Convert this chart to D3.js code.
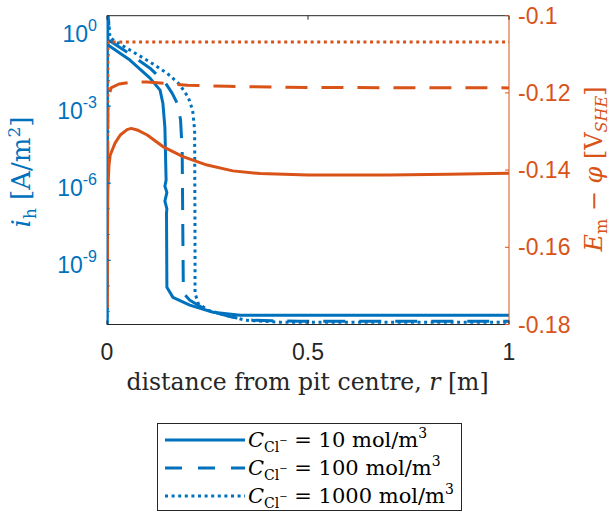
<!DOCTYPE html>
<html><head><meta charset="utf-8">
<script src="https://cdn.jsdelivr.net/npm/d3@7"></script>
<style>
html,body{margin:0;padding:0;background:#fff;}
svg{display:block;}
.serif{font-family:"DejaVu Serif","Liberation Serif",serif;}
.sans{font-family:"Liberation Sans",Arial,sans-serif;}
</style></head>
<body>
<svg id="chart" width="613" height="515"></svg>
<script>
// ---------- data ----------
// current density i_h [A/m^2] (left, log axis)
const r10   = [0, 0.0005, 0.0025, 0.057, 0.107, 0.132, 0.139, 0.144, 0.147, 0.144, 0.149, 0.144, 0.149, 0.148, 0.149, 0.164, 0.206, 0.264, 0.331, 1];
const ih10  = [1e-13, 10, 2.4e-1, 6.2e-2, 1.23e-2, 4.2e-3, 1.3e-3, 1.5e-4, 1.3e-6, 7.6e-7, 4.4e-7, 2.0e-7, 1.0e-7, 6.8e-8, 8.9e-11, 3.6e-11, 1.8e-11, 9.5e-12, 7.2e-12, 7.2e-12];
const r100  = [0, 0.0005, 0.0075, 0.057, 0.107, 0.144, 0.162, 0.177, 0.183, 0.187, 0.189, 0.190, 0.206, 0.249, 0.313, 0.363, 0.48, 1];
const ih100 = [1e-13, 10, 3.4e-1, 1.06e-1, 3.0e-2, 8.6e-3, 3.2e-3, 1.09e-3, 2.85e-4, 1.93e-5, 2.5e-9, 5.2e-11, 2.8e-11, 1.12e-11, 6.0e-12, 4.6e-12, 4.2e-12, 4.2e-12];
const r1000 = [0, 0.0005, 0.0075, 0.057, 0.107, 0.149, 0.180, 0.202, 0.213, 0.218, 0.219, 0.219, 0.227, 0.252, 0.296, 0.345, 0.43, 1];
const ih1000= [1e-13, 10, 4.5e-1, 1.52e-1, 5.2e-2, 1.93e-2, 7.2e-3, 2.24e-3, 7.0e-4, 1.16e-4, 2.5e-9, 5.2e-11, 2.1e-11, 1.12e-11, 7.2e-12, 4.6e-12, 3.9e-12, 3.9e-12];
// potential E_m - phi [V_SHE] (right, linear axis)
const rE10   = [0, 0.002, 0.005, 0.008, 0.02, 0.033, 0.05, 0.06, 0.075, 0.1, 0.139, 0.189, 0.249, 0.313, 0.381, 0.5, 0.7, 0.85, 1];
const E10    = [-0.1757, -0.1452, -0.1387, -0.1361, -0.1330, -0.1309, -0.1295, -0.1292, -0.1296, -0.1309, -0.1339, -0.1365, -0.1387, -0.1402, -0.1409, -0.1413, -0.1413, -0.1411, -0.1408];
const rE100  = [0, 0.0025, 0.01, 0.03, 0.06, 0.1, 0.2, 0.3, 0.5, 1];
const E100   = [-0.1757, -0.1218, -0.1187, -0.1177, -0.1172, -0.1172, -0.1180, -0.1183, -0.1186, -0.1187];
const rE1000 = [0, 0.0025, 1];
const E1000  = [-0.1757, -0.1068, -0.1068];
// axes
const xTicks = [0, 0.5, 1];
const xTickLabels = ["0", "0.5", "1"];
const yLeftMajor = [0, -3, -6, -9];          // exponents of 10
const yLeftMinor = [0, -1, -2, -3, -4, -5, -6, -7, -8, -9, -10, -11];
const yRightTicks = [-0.1, -0.12, -0.14, -0.16, -0.18];
const legendConc = ["10", "100", "1000"];

// ---------- layout ----------
const blue = "#0072BD", orange = "#D95319", axisGray = "#262626";
const L = 107, R = 509, T = 15.7, B = 324.5;
const svg = d3.select("#chart");

const x = d3.scaleLinear().domain([0, 1]).range([L, R]);
const yL = d3.scaleLog().domain([Math.pow(10, -11.5), Math.pow(10, 0.52)]).range([B, T]);
const yR = d3.scaleLinear().domain([-0.18, -0.1]).range([B, T]);

svg.append("clipPath").attr("id", "clip").append("rect")
  .attr("x", L).attr("y", T).attr("width", R - L).attr("height", B - T);

const dashes = {solid: null, dash: "22,14", dot: "3,3.6"};
const g = svg.append("g").attr("clip-path", "url(#clip)");

function drawLine(rs, vs, scaleY, color, style, w) {
  const data = rs.map((r, i) => [r, vs[i]]);
  const line = d3.line().x(d => x(d[0])).y(d => scaleY(d[1]));
  g.append("path").datum(data).attr("d", line)
    .attr("fill", "none").attr("stroke", color).attr("stroke-width", w)
    .attr("stroke-dasharray", dashes[style]).attr("stroke-linejoin", "round");
}
// left (blue)
drawLine(r1000, ih1000, yL, blue, "dot", 3);
drawLine(r100, ih100, yL, blue, "dash", 3);
drawLine(r10, ih10, yL, blue, "solid", 3);
// right (orange)
drawLine(rE1000, E1000, yR, orange, "dot", 3);
drawLine(rE100, E100, yR, orange, "dash", 3);
drawLine(rE10, E10, yR, orange, "solid", 3);

// ---------- axes ----------
const ax = svg.append("g");
ax.append("line").attr("x1", L).attr("x2", R).attr("y1", T).attr("y2", T).attr("stroke", axisGray).attr("stroke-width", 1);
ax.append("line").attr("x1", L).attr("x2", R).attr("y1", B).attr("y2", B).attr("stroke", axisGray).attr("stroke-width", 1);
ax.append("line").attr("x1", L).attr("x2", L).attr("y1", T).attr("y2", B).attr("stroke", blue).attr("stroke-width", 1);
ax.append("line").attr("x1", R).attr("x2", R).attr("y1", T).attr("y2", B).attr("stroke", orange).attr("stroke-width", 1);

// x ticks
xTicks.forEach((t, i) => {
  ax.append("line").attr("x1", x(t)).attr("x2", x(t)).attr("y1", B).attr("y2", B - 4).attr("stroke", axisGray);
  ax.append("line").attr("x1", x(t)).attr("x2", x(t)).attr("y1", T).attr("y2", T + 4).attr("stroke", axisGray);
  ax.append("text").attr("class", "sans").attr("x", x(t)).attr("y", 360)
    .attr("text-anchor", "middle").attr("font-size", 23).attr("fill", axisGray).text(xTickLabels[i]);
});
// left ticks
yLeftMinor.forEach(e => {
  const yy = yL(Math.pow(10, e));
  ax.append("line").attr("x1", L).attr("x2", L + 3).attr("y1", yy).attr("y2", yy).attr("stroke", blue).attr("stroke-width", 0.8);
});
yLeftMajor.forEach(e => {
  const yy = yL(Math.pow(10, e));
  ax.append("line").attr("x1", L).attr("x2", L + 4).attr("y1", yy).attr("y2", yy).attr("stroke", blue);
  const t = ax.append("text").attr("class", "sans").attr("x", 97).attr("y", yy + 13)
    .attr("text-anchor", "end").attr("font-size", 23).attr("fill", blue);
  t.append("tspan").text("10");
  t.append("tspan").attr("font-size", 16).attr("dy", -11).text(e);
});
// right ticks
yRightTicks.forEach(v => {
  const yy = yR(v);
  ax.append("line").attr("x1", R).attr("x2", R - 4).attr("y1", yy).attr("y2", yy).attr("stroke", orange);
  ax.append("text").attr("class", "sans").attr("x", 518).attr("y", yy + 8)
    .attr("font-size", 23).attr("fill", orange).text(String(v));
});

// axis titles
const xl = ax.append("text").attr("class", "serif").attr("x", 307.5).attr("y", 390)
  .attr("text-anchor", "middle").attr("font-size", 23.5).attr("fill", axisGray);
xl.append("tspan").text("distance from pit centre, ");
xl.append("tspan").attr("font-style", "italic").text("r");
xl.append("tspan").text(" [m]");

const yl = ax.append("text").attr("class", "serif").attr("transform", "translate(30,172) rotate(-90)")
  .attr("text-anchor", "middle").attr("font-size", 26).attr("fill", blue);
yl.append("tspan").attr("font-style", "italic").text("i");
yl.append("tspan").attr("font-size", 17).attr("dy", 6).text("h");
yl.append("tspan").attr("dy", -6).text(" [A/m");
yl.append("tspan").attr("font-size", 17).attr("dy", -10).text("2");
yl.append("tspan").attr("dy", 10).text("]");

const yr = ax.append("text").attr("class", "serif").attr("transform", "translate(602,169) rotate(-90)")
  .attr("text-anchor", "middle").attr("font-size", 24).attr("fill", orange);
yr.append("tspan").attr("font-style", "italic").text("E");
yr.append("tspan").attr("font-size", 16).attr("dy", 5).text("m");
yr.append("tspan").attr("dy", -5).text(" − ");
yr.append("tspan").attr("font-style", "italic").text("φ");
yr.append("tspan").text(" [V");
yr.append("tspan").attr("font-size", 16).attr("font-style", "italic").attr("dy", 5).text("SHE");
yr.append("tspan").attr("dy", -5).text("]");

// ---------- legend ----------
const lg = svg.append("g");
lg.append("rect").attr("x", 157.5).attr("y", 423.5).attr("width", 304).attr("height", 87)
  .attr("fill", "#fff").attr("stroke", axisGray).attr("stroke-width", 1);
const lstyles = ["solid", "dash", "dot"];
const lgDash = {solid: null, dash: "17,16", dot: "3,3.6"};
legendConc.forEach((c, i) => {
  const yy = 440 + i * 28;
  lg.append("line").attr("x1", 165).attr("x2", 245).attr("y1", yy).attr("y2", yy)
    .attr("stroke", blue).attr("stroke-width", 3).attr("stroke-dasharray", lgDash[lstyles[i]]);
  const t = lg.append("text").attr("class", "serif").attr("x", 248).attr("y", yy + 7)
    .attr("font-size", 21).attr("fill", "#000");
  t.append("tspan").attr("font-style", "italic").text("C");
  t.append("tspan").attr("font-size", 14).attr("dy", 5).text("Cl");
  t.append("tspan").attr("font-size", 10).attr("dy", -8).text("−");
  t.append("tspan").attr("dy", 3).text(" = " + c + " mol/m");
  t.append("tspan").attr("font-size", 14).attr("dy", -9).text("3");
});
</script>
</body></html>
